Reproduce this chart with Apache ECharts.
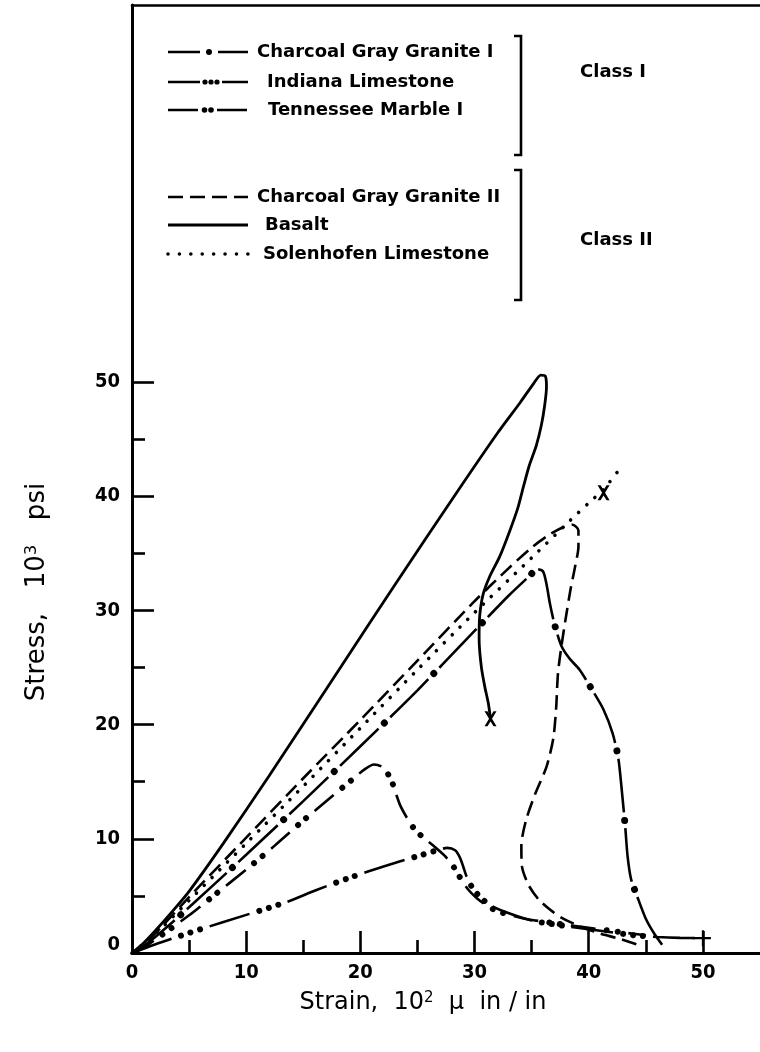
<!DOCTYPE html>
<html><head><meta charset="utf-8">
<script src="https://cdn.jsdelivr.net/npm/echarts@6.0.0/dist/echarts.min.js"></script>
<style>html,body{margin:0;padding:0;background:#fff}#c{width:760px;height:1052px}</style>
</head><body><div id="c"></div>
<script>
// ---- data (strain in 10^2 micro in/in, stress in 10^3 psi) ----
const basalt = [[0,0],[1,0.85],[2,1.9],[3.5,3.6],[5,5.4],[8,9.6],[12,15.5],[18,24.6],[23,32.2],[28.5,40.4],[32,45.5],[34,48.2],[35.2,49.9],[35.8,50.6],[36.2,50.5],[36.3,49.6],[36.15,48.0],[35.85,46.2],[35.4,44.4],[34.8,42.7],[34.3,40.9],[33.8,39.0],[33.1,37.0],[32.2,34.7],[31.3,32.9],[30.75,31.4],[30.45,29.5],[30.4,27.5],[30.6,25.0],[30.9,23.3],[31.2,21.9],[31.4,20.5]];
const solenhofen = [[0,0],[1,0.8],[2.5,2.1],[5,4.6],[7.7,7.3],[10,9.6],[15,14.6],[20,19.7],[25,24.8],[30,29.8],[35,34.6],[38.4,37.9],[40,39.4],[41.3,40.6],[42.8,42.5]];
const cggII = [[0,0],[1,0.7],[2.5,2.2],[5,4.9],[10,10.1],[15,15.3],[20,20.4],[25,25.6],[30,30.8],[33,33.7],[35,35.5],[36.5,36.6],[37.8,37.3],[38.6,37.5],[39.1,37.0],[39.1,35.6],[38.8,33.8],[38.4,31.8],[38.0,29.4],[37.6,26.8],[37.3,24.4],[37.15,21.5],[36.9,18.8],[36.3,16.3],[35.3,13.9],[34.5,11.6],[34.1,9.4],[34.15,7.6],[34.7,6.0],[35.6,4.7],[36.6,3.8],[37.6,3.1],[39.3,2.3],[41,1.7],[42.5,1.3],[44.4,0.7]];
const cggI = [[0,0],[1,0.6],[2.5,1.8],[5,4.0],[10,8.6],[15,13.3],[20,18.1],[25,23.0],[30,28.2],[33,31.3],[34.8,33.0],[35.5,33.6],[36.0,33.4],[36.3,32.3],[36.6,30.6],[37.0,28.8],[37.6,26.9],[38.3,25.8],[39.2,24.8],[40.2,23.2],[41.3,21.3],[42.1,19.2],[42.6,17.0],[42.9,14.2],[43.2,11.0],[43.4,8.5],[43.7,6.5],[44.3,4.8],[45.0,3.0],[45.8,1.6],[46.6,0.5]];
const tennessee = [[0,0],[1,0.45],[2.5,1.5],[5,3.3],[7,4.9],[10,7.3],[12.5,9.4],[15,11.6],[17.5,13.7],[19.3,15.2],[20.4,16.1],[21.2,16.5],[21.9,16.3],[22.4,15.7],[22.8,14.9],[23.1,14.0],[23.5,12.9],[24.1,11.8],[24.7,10.9],[25.4,10.2],[26.4,9.4],[27.4,8.5],[28.2,7.5],[28.8,6.5],[29.4,5.6],[30.2,4.8],[31.3,4.0],[32.5,3.5],[34.2,3.05],[37,2.6],[40,2.2],[43,1.8],[45,1.55]];
const indiana = [[0,0],[2,0.75],[3.9,1.4],[7.8,2.65],[13.5,4.45],[16.1,5.5],[19.1,6.6],[22.1,7.6],[24.9,8.45],[26.6,8.95],[27.6,9.2],[28.3,9.0],[28.7,8.4],[29.0,7.6],[29.3,6.7],[29.7,5.9],[30.3,5.1],[31.2,4.3],[32.3,3.75],[35,2.85],[38,2.35],[41,1.95],[44,1.55],[46,1.4],[48,1.32],[50,1.3]];
const failureX = [[31.4,20.5],[41.3,40.3]];
const failurePlus = [[50,1.3]];
const xMajorTicks = [10,20,30,40,50];
const xMinorTicks = [5,15,25,35,45];
const yMajorTicks = [10,20,30,40,50];
const yMinorTicks = [5,15,25,35,45];
const xTickLabels = [0,10,20,30,40,50];
const yTickLabels = [0,10,20,30,40,50];
const class1Names = ['Charcoal Gray Granite I','Indiana Limestone','Tennessee Marble I'];
const class2Names = ['Charcoal Gray Granite II','Basalt','Solenhofen Limestone'];
const classLabels = ['Class I','Class II'];
const xTitle = ['Strain,  10','2','  \u03bc  in / in'];
const yTitle = ['Stress,   10','3','   psi'];

// ---- styling ----
const K = '#000';
const FF = '"DejaVu Sans", sans-serif';
const FFC = '"DejaVu Sans Condensed", "DejaVu Sans", sans-serif';
function ln(data, ls, z) {
  return {type:'line', data:data, xAxisIndex:0, yAxisIndex:0, symbol:'none', showSymbol:false,
    smooth:0.25, silent:true, animation:false, z:z||2,
    lineStyle:Object.assign({color:K, width:2.6, cap:'butt', opacity:1}, ls)};
}
const series = [
  ln(basalt, {type:'solid', width:2.8}),
  ln(solenhofen, {type:[0.01, 11], width:3.6, cap:'round'}),
  ln(cggII, {type:[15, 7], width:2.6}),
  ln(cggI, {type:[54, 16], width:2.6}),
  ln(cggI, {type:[0.01, 69.99], width:7, cap:'round', dashOffset:8}, 3),
  ln(tennessee, {type:[25, 33], width:2.6}),
  ln(tennessee, {type:[0.01, 10.99, 0.01, 46.99], width:6, cap:'round', dashOffset:22}, 3),
  ln(indiana, {type:[42, 40], width:2.6}),
  ln(indiana, {type:[0.01, 9.99, 0.01, 9.99, 0.01, 61.99], width:6, cap:'round', dashOffset:30}, 3),
  {type:'scatter', data:failureX, symbol:'path://M0,0L3,0L6,4.5L9,0L12,0L7.5,7L12,14L9,14L6,9.5L3,14L0,14L4.5,7Z',
    symbolSize:[12,15], itemStyle:{color:K, opacity:1}, silent:true, animation:false, z:4},
  {type:'scatter', data:failurePlus, symbol:'path://M6.5,0H8.5V6.5H15V8.5H8.5V15H6.5V8.5H0V6.5H6.5Z',
    symbolSize:16, itemStyle:{color:K, opacity:1}, silent:true, animation:false, z:4}
];

// ---- legend / annotation graphics ----
const g = [];
const rowY1 = [52, 82, 110], rowY2 = [197, 225, 254];
const textX1 = [257, 267, 268], textX2 = [257, 265, 263];
const textFont = 'bold 18px ' + FF;
class1Names.forEach((n,i)=>g.push({type:'text', x:textX1[i], y:rowY1[i], style:{text:n, font:textFont, fill:K, align:'left', verticalAlign:'middle'}}));
class2Names.forEach((n,i)=>g.push({type:'text', x:textX2[i], y:rowY2[i], style:{text:n, font:textFont, fill:K, align:'left', verticalAlign:'middle'}}));
g.push({type:'text', x:580, y:72, style:{text:classLabels[0], font:textFont, fill:K, align:'left', verticalAlign:'middle'}});
g.push({type:'text', x:580, y:240, style:{text:classLabels[1], font:textFont, fill:K, align:'left', verticalAlign:'middle'}});
function seg(y, dash, w, cap) {
  g.push({type:'polyline', shape:{points:[[168,y],[248,y]]}, style:{stroke:K, lineWidth:w||2.6, lineDash:dash||null, lineCap:cap||'butt', fill:null}});
}
function dot(x, y, r) { g.push({type:'circle', shape:{cx:x, cy:y, r:r}, style:{fill:K}}); }
seg(rowY1[0], [32,18]); dot(209, rowY1[0], 3);
seg(rowY1[1], [32,22]); dot(205, rowY1[1], 2.6); dot(211, rowY1[1], 2.6); dot(217, rowY1[1], 2.6);
seg(rowY1[2], [30,19]); dot(204.5, rowY1[2], 2.8); dot(211, rowY1[2], 2.8);
seg(rowY2[0], [15,7]);
seg(rowY2[1], null, 2.8);
seg(rowY2[2], [0.01, 11.4], 3.6, 'round');
g.push({type:'polyline', shape:{points:[[514,36],[521,36],[521,155],[514,155]]}, style:{stroke:K, lineWidth:2.6, fill:null}});
g.push({type:'polyline', shape:{points:[[514,170],[521,170],[521,300],[514,300]]}, style:{stroke:K, lineWidth:2.6, fill:null}});
// axis titles
const titleRich = {a:{fontSize:24, fontFamily:FF, fill:K}, s:{fontSize:15, fontFamily:FF, fill:K, verticalAlign:'top'}};
const yTitleRich = {a:{fontSize:26, fontFamily:FF, fill:K}, s:{fontSize:16, fontFamily:FF, fill:K, verticalAlign:'top'}};
g.push({type:'text', x:423, y:1003, style:{text:'{a|'+xTitle[0]+'}{s|'+xTitle[1]+'}{a|'+xTitle[2]+'}', rich:titleRich, align:'center', verticalAlign:'middle'}});
g.push({type:'text', x:37, y:592, rotation:Math.PI/2, style:{text:'{a|'+yTitle[0]+'}{s|'+yTitle[1]+'}{a|'+yTitle[2]+'}', rich:yTitleRich, align:'center', verticalAlign:'middle'}});

const labelStyle = {color:K, fontSize:20, fontFamily:FFC, fontWeight:'bold'};
const option = {
  animation:false,
  backgroundColor:'#fff',
  grid:{left:132, right:0, top:5, bottom:99, containLabel:false},
  xAxis:[
    {type:'value', position:'bottom', min:0, max:55, interval:5,
      axisLine:{show:true, lineStyle:{color:K, width:3.2}},
      axisTick:{show:true, inside:true, length:22, lineStyle:{color:K, width:2.6}, customValues:xMajorTicks},
      axisLabel:Object.assign({show:true, margin:10, customValues:xTickLabels}, labelStyle),
      splitLine:{show:false}},
    {type:'value', position:'bottom', offset:0, min:0, max:55, interval:5,
      axisLine:{show:false},
      axisTick:{show:true, inside:true, length:13, lineStyle:{color:K, width:2.6}, customValues:xMinorTicks},
      axisLabel:{show:false}, splitLine:{show:false}},
    {type:'value', position:'top', min:0, max:55, interval:5,
      axisLine:{show:true, lineStyle:{color:K, width:2.6}},
      axisTick:{show:false}, axisLabel:{show:false}, splitLine:{show:false}}
  ],
  yAxis:[
    {type:'value', position:'left', min:0, max:83, interval:5,
      axisLine:{show:true, lineStyle:{color:K, width:3}},
      axisTick:{show:true, inside:true, length:22, lineStyle:{color:K, width:2.6}, customValues:yMajorTicks},
      axisLabel:Object.assign({show:true, margin:12, customValues:yTickLabels,
        formatter:function(v){return v===0 ? '{z|0}' : String(v);},
        rich:{z:{fontSize:20, fontFamily:FFC, fontWeight:'bold', color:K, padding:[0,0,16,0]}}}, labelStyle),
      splitLine:{show:false}},
    {type:'value', position:'left', offset:0, min:0, max:83, interval:5,
      axisLine:{show:false},
      axisTick:{show:true, inside:true, length:13, lineStyle:{color:K, width:2.6}, customValues:yMinorTicks},
      axisLabel:{show:false}, splitLine:{show:false}}
  ],
  series:series,
  graphic:g
};
const chart = echarts.init(document.getElementById('c'), null, {renderer:'canvas'});
chart.setOption(option);
</script>
</body></html>
